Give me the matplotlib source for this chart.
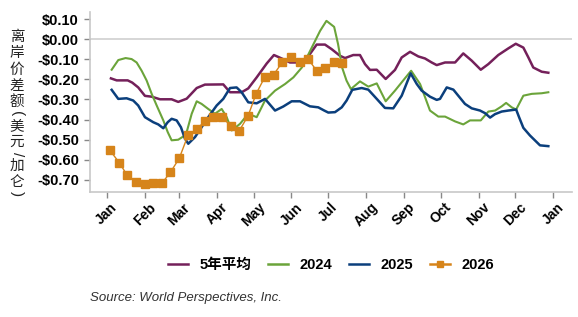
import matplotlib
matplotlib.use("Agg")
import matplotlib.pyplot as plt
from matplotlib.lines import Line2D

# ---- data (x = day of year, y = spread in $/gal) ----
avg_days = [3.5, 8.2, 17.2, 20.9, 25.8, 31.3, 36.8, 43.6, 53.1, 58.5, 65.4, 73.6, 80.3, 95.3,
            100.8, 110.3, 115.7, 122.6, 130.8, 136.7, 143.0, 149.8, 162.1, 166.1, 171.6, 178.4,
            183.9, 190.7, 194.8, 201.5, 207.0, 211.1, 215.2, 220.7, 228.0, 235.6, 241.1, 247.9,
            254.7, 260.1, 265.6, 269.7, 276.5, 284.7, 291.4, 298.3, 305.7, 311.9, 320.0, 328.2,
            334.3, 340.5, 344.6, 348.6, 355.5, 360.9]
avg_vals = [-0.195, -0.205, -0.205, -0.216, -0.240, -0.282, -0.286, -0.299, -0.299, -0.312,
            -0.296, -0.243, -0.226, -0.225, -0.264, -0.264, -0.245, -0.190, -0.121, -0.079,
            -0.096, -0.116, -0.116, -0.074, -0.027, -0.027, -0.050, -0.083, -0.094, -0.079,
            -0.079, -0.124, -0.153, -0.152, -0.198, -0.153, -0.091, -0.063, -0.086, -0.096,
            -0.116, -0.129, -0.116, -0.116, -0.071, -0.107, -0.152, -0.124, -0.079, -0.046,
            -0.023, -0.042, -0.091, -0.141, -0.162, -0.167]

y2024_days = [4.1, 9.5, 15.5, 20.4, 24.5, 28.6, 32.7, 36.8, 40.9, 46.3, 49.9, 53.1, 58.5, 62.6,
              65.4, 69.5, 73.6, 77.6, 83.0, 88.5, 94.0, 98.1, 102.2, 109.0, 115.7, 122.6, 129.4,
              137.6, 145.8, 152.6, 159.5, 167.6, 174.4, 179.6, 185.9, 189.1, 192.4, 196.0, 199.6,
              207.0, 213.8, 220.7, 228.0, 235.6, 243.3, 248.8, 256.1, 260.2, 264.2, 271.0, 276.5,
              284.7, 291.4, 296.9, 305.7, 311.9, 317.4, 322.8, 326.4, 331.0, 334.6, 340.5, 347.4,
              355.5, 360.9]
y2024_vals = [-0.152, -0.104, -0.094, -0.099, -0.116, -0.157, -0.206, -0.272, -0.330, -0.404,
              -0.462, -0.503, -0.500, -0.484, -0.462, -0.371, -0.309, -0.322, -0.347, -0.371,
              -0.347, -0.388, -0.454, -0.421, -0.371, -0.388, -0.305, -0.256, -0.223, -0.190,
              -0.141, -0.042, 0.041, 0.091, 0.061, -0.025, -0.141, -0.206, -0.248, -0.210,
              -0.236, -0.220, -0.309, -0.256, -0.198, -0.157, -0.223, -0.289, -0.355, -0.385,
              -0.385, -0.409, -0.424, -0.404, -0.404, -0.360, -0.355, -0.334, -0.317, -0.339,
              -0.350, -0.281, -0.272, -0.269, -0.264]

y2025_days = [4.1, 9.5, 16.3, 21.7, 25.8, 31.3, 38.1, 42.2, 46.3, 49.9, 53.1, 57.2, 60.7, 64.0,
              66.7, 72.2, 77.6, 83.0, 89.9, 95.3, 100.8, 106.2, 110.3, 115.7, 122.6, 129.4,
              137.6, 144.3, 151.2, 158.0, 166.1, 172.9, 177.8, 181.1, 186.6, 192.1, 196.1, 200.7,
              208.4, 213.8, 220.7, 227.4, 234.2, 241.1, 248.4, 253.4, 257.4, 264.2, 269.7, 272.4,
              277.9, 283.3, 287.3, 292.8, 298.3, 305.1, 309.2, 313.3, 317.3, 322.8, 328.2, 334.6,
              337.0, 340.5, 345.9, 354.1, 360.9]
y2025_vals = [-0.252, -0.297, -0.294, -0.305, -0.330, -0.388, -0.413, -0.424, -0.443, -0.413,
              -0.396, -0.404, -0.438, -0.495, -0.520, -0.487, -0.438, -0.388, -0.330, -0.297,
              -0.243, -0.240, -0.264, -0.314, -0.319, -0.297, -0.355, -0.335, -0.309, -0.309,
              -0.334, -0.339, -0.355, -0.365, -0.363, -0.339, -0.305, -0.252, -0.243, -0.251,
              -0.297, -0.342, -0.344, -0.281, -0.170, -0.223, -0.256, -0.286, -0.302, -0.297,
              -0.240, -0.251, -0.281, -0.322, -0.344, -0.355, -0.368, -0.390, -0.373, -0.360,
              -0.355, -0.350, -0.388, -0.441, -0.479, -0.528, -0.532]

y2026_days = [2.7, 10.3, 16.8, 24.2, 31.5, 38.1, 45.2, 52.0, 59.3, 66.4, 73.5, 80.5, 86.8, 93.9,
              101.3, 108.0, 115.6, 122.2, 129.3, 136.4, 143.4, 150.8, 157.6, 164.7, 171.6, 178.6,
              185.9, 192.5]
y2026_vals = [-0.553, -0.614, -0.677, -0.708, -0.721, -0.715, -0.716, -0.663, -0.593, -0.479,
              -0.446, -0.409, -0.385, -0.385, -0.431, -0.459, -0.381, -0.271, -0.188, -0.177,
              -0.116, -0.088, -0.112, -0.099, -0.157, -0.144, -0.112, -0.119]

month_days = [0, 31, 59, 90, 120, 151, 181, 212, 243, 273, 304, 334, 365]
month_labels = ["Jan", "Feb", "Mar", "Apr", "May", "Jun", "Jul", "Aug", "Sep", "Oct", "Nov", "Dec", "Jan"]
y_ticks = [0.10, 0.00, -0.10, -0.20, -0.30, -0.40, -0.50, -0.60, -0.70]
series_labels = ["5年平均", "2024", "2025", "2026"]
# y-axis title "离岸价差额(美元/加仑)", written vertically
ylabel_parts = ["离岸价差额", "(", "美元", "/", "加仑", ")"]
source_text = "Source: World Perspectives, Inc."

c_avg = "#74205A"
c_24 = "#6BA43A"
c_25 = "#0B3F7C"
c_26 = "#D6841A"

plt.rcParams["font.family"] = ["Liberation Sans", "Noto Sans CJK SC", "DejaVu Sans"]

W, H = 578, 317
fig = plt.figure(figsize=(W / 100, H / 100), dpi=100)
ax = fig.add_axes([90 / W, 1 - 192 / H, (571.7 - 90) / W, (192 - 12) / H])

ax.axhline(0, color="#cfcfcf", lw=1.2, zorder=1)
ax.plot(avg_days, avg_vals, color=c_avg, lw=1.8, zorder=3)
ax.plot(y2024_days, y2024_vals, color=c_24, lw=1.5, zorder=3)
ax.plot(y2025_days, y2025_vals, color=c_25, lw=1.8, zorder=3)
ax.plot(y2026_days, y2026_vals, color=c_26, lw=1.0, marker="s", ms=5.5, zorder=4)

ax.set_xlim(-13.6, 380)
ax.set_ylim(-0.76, 0.135)
ax.set_xticks(month_days)
ax.set_xticklabels(month_labels, rotation=45, ha="center", va="top",
                   fontsize=10, fontweight="bold")
ax.set_yticks(y_ticks)
ax.set_yticklabels([("-$%.2f" % abs(v)) if v < -1e-9 else ("$%.2f" % abs(v)) for v in y_ticks],
                   fontsize=10.5, fontweight="bold")
ax.tick_params(axis="both", color="#888888", length=4, width=1)
ax.tick_params(axis="x", pad=2)
ax.tick_params(axis="y", pad=4)

for s in ["top", "right"]:
    ax.spines[s].set_visible(False)
for s in ["left", "bottom"]:
    ax.spines[s].set_color("#c8c8c8")
    ax.spines[s].set_linewidth(1.2)

# stacked vertical label: CJK runs upright, brackets/slash turned 90 degrees
renderer = fig.canvas.get_renderer()
cur = 30.0  # pixels from top
for part in ylabel_parts:
    if part in "()/":
        t = fig.text(17 / W, 1 - cur / H, part, ha="center", va="top", rotation=-90,
                     fontsize=11, family=["Liberation Sans"], color="#222222")
    else:
        t = fig.text(17 / W, 1 - cur / H, "\n".join(part), ha="center", va="top",
                     fontsize=10.5, family=["Noto Sans CJK SC", "DejaVu Sans"],
                     linespacing=1.2, color="#222222")
    ext = t.get_window_extent(renderer)
    cur += ext.height + 2.5

handles = [
    Line2D([], [], color=c_avg, lw=1.8),
    Line2D([], [], color=c_24, lw=1.8),
    Line2D([], [], color=c_25, lw=1.8),
    Line2D([], [], color=c_26, lw=1.8, marker="s", ms=5),
]
fig.legend(handles, series_labels, loc="center", bbox_to_anchor=(331 / W, 1 - 265 / H),
           ncol=4, frameon=False, handlelength=1.4, handletextpad=0.8, columnspacing=1.1,
           prop={"weight": "bold", "size": 10.5,
                 "family": ["Liberation Sans", "Noto Sans CJK SC"]})

fig.text(90 / W, 1 - 298 / H, source_text, ha="left", va="center",
         fontsize=9.5, style="italic", color="#333333")

fig.savefig("out.png", dpi=100)
